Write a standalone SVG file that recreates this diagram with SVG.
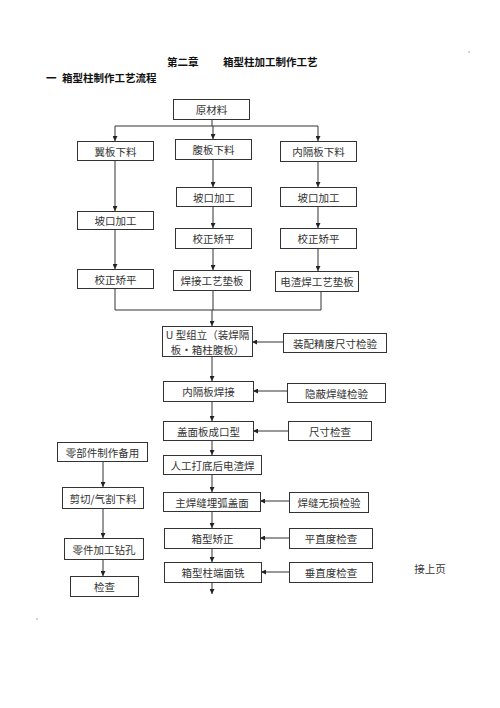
<svg xmlns="http://www.w3.org/2000/svg" width="500" height="708" viewBox="0 0 500 708">
<style>
.b{fill:#fff;stroke:#333;stroke-width:1}
.t{font-family:"Noto Sans CJK SC","Liberation Serif",sans-serif;font-size:10.5px;fill:#333;text-anchor:middle;dominant-baseline:central}
.h{font-family:"Noto Sans CJK SC","Liberation Sans",sans-serif;font-size:10.5px;font-weight:bold;fill:#111}
.c{fill:none;stroke:#333;stroke-width:1}
</style>
<defs>
<marker id="a" viewBox="0 0 8 8" refX="8" refY="4" markerWidth="5" markerHeight="5" markerUnits="userSpaceOnUse" orient="auto">
<path d="M0,0L8,4L0,8z" fill="#222"/>
</marker>
</defs>
<rect width="500" height="708" fill="#fff"/>
<text class="h" x="167" y="66">第二章</text>
<text class="h" x="223" y="66">箱型柱加工制作工艺</text>
<text class="h" x="46" y="82">一</text>
<text class="h" x="62" y="82">箱型柱制作工艺流程</text>
<circle cx="469" cy="52" r="0.8" fill="#999"/>
<circle cx="37" cy="619" r="0.8" fill="#999"/>
<g id="connectors">
<path class="c" d="M212,119V126M115,126H318"/>
<path class="c" d="M115,126V141" marker-end="url(#a)"/>
<path class="c" d="M213,126V139" marker-end="url(#a)"/>
<path class="c" d="M318,126V141" marker-end="url(#a)"/>
<path class="c" d="M115,160V211" marker-end="url(#a)"/>
<path class="c" d="M115,229V269" marker-end="url(#a)"/>
<path class="c" d="M213,159V187" marker-end="url(#a)"/>
<path class="c" d="M213,206V228" marker-end="url(#a)"/>
<path class="c" d="M213,248V270" marker-end="url(#a)"/>
<path class="c" d="M318,161V187" marker-end="url(#a)"/>
<path class="c" d="M318,206V228" marker-end="url(#a)"/>
<path class="c" d="M318,248V271" marker-end="url(#a)"/>
<path class="c" d="M115,288V310H321V291M213,290V310"/>
<path class="c" d="M212,310V326" marker-end="url(#a)"/>
<path class="c" d="M212,356V381" marker-end="url(#a)"/>
<path class="c" d="M212,401V421" marker-end="url(#a)"/>
<path class="c" d="M212,440V455" marker-end="url(#a)"/>
<path class="c" d="M212,474V492" marker-end="url(#a)"/>
<path class="c" d="M212,511V528" marker-end="url(#a)"/>
<path class="c" d="M212,548V562" marker-end="url(#a)"/>
<path class="c" d="M212,582V594" marker-end="url(#a)"/>
<path class="c" d="M283,342H252" marker-end="url(#a)"/>
<path class="c" d="M287,391H253" marker-end="url(#a)"/>
<path class="c" d="M288,431H253" marker-end="url(#a)"/>
<path class="c" d="M289,501H260" marker-end="url(#a)"/>
<path class="c" d="M289,538H260" marker-end="url(#a)"/>
<path class="c" d="M289,572H261" marker-end="url(#a)"/>
<path class="c" d="M103,461V487" marker-end="url(#a)"/>
<path class="c" d="M103,508V538" marker-end="url(#a)"/>
<path class="c" d="M103,559V576" marker-end="url(#a)"/>
</g>
<g id="n1"><rect class="b" x="173.5" y="99.5" width="76" height="20"/><text class="t" x="211.5" y="109.5">原材料</text></g>
<g id="n2"><rect class="b" x="77.5" y="141.5" width="76" height="19"/><text class="t" x="115.5" y="151">翼板下料</text></g>
<g id="n3"><rect class="b" x="175.5" y="139.5" width="76" height="20"/><text class="t" x="213.5" y="149.5">腹板下料</text></g>
<g id="n4"><rect class="b" x="280.5" y="141.5" width="76" height="20"/><text class="t" x="318.5" y="151.5">内隔板下料</text></g>
<g id="n5"><rect class="b" x="77.5" y="211.5" width="76" height="18"/><text class="t" x="115.5" y="220.5">坡口加工</text></g>
<g id="n6"><rect class="b" x="77.5" y="269.5" width="76" height="19"/><text class="t" x="115.5" y="279">校正矫平</text></g>
<g id="n7"><rect class="b" x="176.5" y="187.5" width="75" height="19"/><text class="t" x="214" y="197">坡口加工</text></g>
<g id="n8"><rect class="b" x="175.5" y="228.5" width="76" height="20"/><text class="t" x="213.5" y="238.5">校正矫平</text></g>
<g id="n9"><rect class="b" x="173.5" y="270.5" width="77" height="20"/><text class="t" x="212" y="280.5">焊接工艺垫板</text></g>
<g id="n10"><rect class="b" x="280.5" y="187.5" width="76" height="19"/><text class="t" x="318.5" y="197">坡口加工</text></g>
<g id="n11"><rect class="b" x="280.5" y="228.5" width="76" height="20"/><text class="t" x="318.5" y="238.5">校正矫平</text></g>
<g id="n12"><rect class="b" x="275.5" y="271.5" width="83" height="20"/><text class="t" x="317" y="281.5">电渣焊工艺垫板</text></g>
<g id="n13"><rect class="b" x="162.5" y="326.5" width="90" height="30"/><text class="t" x="207.5" y="334" font-size="10px">U 型组立（装焊隔</text><text class="t" x="207.5" y="349" font-size="10px">板・箱柱腹板）</text></g>
<g id="n14"><rect class="b" x="283.5" y="333.5" width="103" height="19"/><text class="t" x="335" y="343">装配精度尺寸检验</text></g>
<g id="n15"><rect class="b" x="163.5" y="381.5" width="90" height="20"/><text class="t" x="208.5" y="391.5">内隔板焊接</text></g>
<g id="n16"><rect class="b" x="287.5" y="383.5" width="98" height="19"/><text class="t" x="336.5" y="393">隐蔽焊缝检验</text></g>
<g id="n17"><rect class="b" x="163.5" y="421.5" width="90" height="19"/><text class="t" x="208.5" y="431">盖面板成口型</text></g>
<g id="n18"><rect class="b" x="288.5" y="421.5" width="83" height="19"/><text class="t" x="330" y="431">尺寸检查</text></g>
<g id="n19"><rect class="b" x="163.5" y="455.5" width="98" height="19"/><text class="t" x="212.5" y="465">人工打底后电渣焊</text></g>
<g id="n20"><rect class="b" x="163.5" y="492.5" width="97" height="19"/><text class="t" x="212" y="502">主焊缝埋弧盖面</text></g>
<g id="n21"><rect class="b" x="289.5" y="492.5" width="79" height="20"/><text class="t" x="329" y="502.5">焊缝无损检验</text></g>
<g id="n22"><rect class="b" x="164.5" y="528.5" width="96" height="20"/><text class="t" x="212.5" y="538.5">箱型矫正</text></g>
<g id="n23"><rect class="b" x="289.5" y="528.5" width="83" height="20"/><text class="t" x="331" y="538.5">平直度检查</text></g>
<g id="n24"><rect class="b" x="164.5" y="562.5" width="97" height="20"/><text class="t" x="213" y="572.5">箱型柱端面铣</text></g>
<g id="n25"><rect class="b" x="289.5" y="562.5" width="83" height="20"/><text class="t" x="331" y="572.5">垂直度检查</text></g>
<g id="n26"><rect class="b" x="57.5" y="442.5" width="90" height="19"/><text class="t" x="102.5" y="452">零部件制作备用</text></g>
<g id="n27"><rect class="b" x="62.5" y="487.5" width="81" height="21"/><text class="t" x="103" y="498">剪切/气割下料</text></g>
<g id="n28"><rect class="b" x="64.5" y="538.5" width="79" height="21"/><text class="t" x="104" y="549">零件加工钻孔</text></g>
<g id="n29"><rect class="b" x="70.5" y="576.5" width="68" height="20"/><text class="t" x="104.5" y="586.5">检查</text></g>
<text class="t" x="430" y="568">接上页</text>
</svg>
